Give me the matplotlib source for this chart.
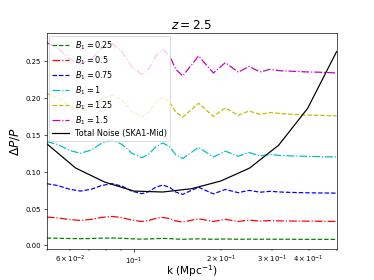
import matplotlib
matplotlib.use("Agg")
import matplotlib.pyplot as plt

# k grid (Mpc^-1) for the B1 curves
k = [0.050, 0.0545, 0.0599, 0.0653, 0.0713, 0.0771, 0.0841, 0.0910, 0.0984,
     0.1065, 0.1126, 0.1189, 0.1257, 0.1328, 0.1393, 0.1472, 0.1568, 0.1670,
     0.1771, 0.1879, 0.1970, 0.2066, 0.2175, 0.2289, 0.2390, 0.2496, 0.2607,
     0.2722, 0.2832, 0.2946, 0.3187, 0.3449, 0.3882, 0.4369, 0.50]

dp_025 = [0.0100, 0.0098, 0.0094, 0.0092, 0.0094, 0.0099, 0.0101, 0.0097, 0.0090,
          0.0086, 0.0088, 0.0093, 0.0095, 0.0093, 0.0087, 0.0084, 0.0087, 0.0090,
          0.0087, 0.0084, 0.0086, 0.0088, 0.0086, 0.0084, 0.0085, 0.0086, 0.0085,
          0.0084, 0.0085, 0.0085, 0.0084, 0.0084, 0.0083, 0.0083, 0.0082]
dp_05 = [0.0385, 0.0374, 0.0351, 0.0340, 0.0354, 0.0380, 0.0394, 0.0377, 0.0343,
         0.0326, 0.0340, 0.0367, 0.0380, 0.0364, 0.0333, 0.0317, 0.0340, 0.0362,
         0.0344, 0.0326, 0.0340, 0.0353, 0.0340, 0.0326, 0.0335, 0.0344, 0.0337,
         0.0330, 0.0334, 0.0337, 0.0333, 0.0331, 0.0330, 0.0328, 0.0326]
dp_075 = [0.0838, 0.0813, 0.0763, 0.0738, 0.0763, 0.0813, 0.0838, 0.0804, 0.0736,
          0.0702, 0.0732, 0.0790, 0.0820, 0.0788, 0.0725, 0.0693, 0.0742, 0.0790,
          0.0745, 0.0700, 0.0730, 0.0760, 0.0738, 0.0716, 0.0732, 0.0747, 0.0735,
          0.0722, 0.0728, 0.0735, 0.0725, 0.0720, 0.0715, 0.0712, 0.0710]
dp_1 = [0.141, 0.137, 0.129, 0.125, 0.1295, 0.1385, 0.143, 0.137, 0.125,
        0.119, 0.124, 0.134, 0.139, 0.134, 0.123, 0.118, 0.1255, 0.133,
        0.1265, 0.120, 0.124, 0.128, 0.1245, 0.121, 0.1235, 0.126, 0.1238,
        0.1215, 0.1225, 0.1235, 0.122, 0.1215, 0.121, 0.1205, 0.120]
dp_125 = [0.206, 0.2005, 0.1895, 0.184, 0.189, 0.199, 0.204, 0.1965, 0.1815,
          0.174, 0.181, 0.194, 0.201, 0.194, 0.181, 0.174, 0.1835, 0.193,
          0.184, 0.175, 0.181, 0.1866, 0.1816, 0.1766, 0.1795, 0.1825, 0.180,
          0.178, 0.179, 0.1803, 0.179, 0.178, 0.177, 0.1765, 0.1757]
dp_15 = [0.275, 0.268, 0.253, 0.246, 0.253, 0.267, 0.274, 0.263, 0.242,
         0.232, 0.240, 0.257, 0.266, 0.257, 0.239, 0.230, 0.2435, 0.257,
         0.2455, 0.234, 0.241, 0.248, 0.2415, 0.235, 0.239, 0.243, 0.239,
         0.2355, 0.237, 0.239, 0.237, 0.2365, 0.2355, 0.235, 0.234]

# total noise, SKA1-Mid
k_noise = [0.0500, 0.0629, 0.0792, 0.0998, 0.1256, 0.1581, 0.1991, 0.2506,
           0.3155, 0.3972, 0.5000]
noise = [0.138, 0.105, 0.086, 0.0738, 0.0725, 0.077, 0.0874, 0.105,
         0.136, 0.186, 0.263]

fig = plt.figure(figsize=(6.4, 4.8), dpi=58.44)
ax = fig.add_subplot(111)

ax.plot(k, dp_025, 'g--', label=r'$B_1 = 0.25$')
ax.plot(k, dp_05, 'r-.', label=r'$B_1 = 0.5$')
ax.plot(k, dp_075, 'b--', label=r'$B_1 = 0.75$')
ax.plot(k, dp_1, 'c-.', label=r'$B_1 = 1$')
ax.plot(k, dp_125, 'y--', label=r'$B_1 = 1.25$')
ax.plot(k, dp_15, 'm-.', label=r'$B_1 = 1.5$')
ax.plot(k_noise, noise, 'k-', label='Total Noise (SKA1-Mid)')

ax.set_xscale('log')
ax.set_xlim(0.05, 0.5)
ax.set_ylim(-0.005, 0.288)
ax.tick_params(axis='both', which='both', labelsize=8.5)
ax.set_xlabel(r'k (Mpc$^{-1}$)', fontsize=13)
ax.xaxis.set_label_coords(0.5, -0.062)
ax.set_ylabel(r'$\Delta P/P$', fontsize=15)
ax.set_title(r'$z = 2.5$', fontsize=15)
ax.legend(loc=2, fontsize=10, borderaxespad=0.3, labelspacing=0.3)

fig.savefig('out.png', dpi=58.44)
